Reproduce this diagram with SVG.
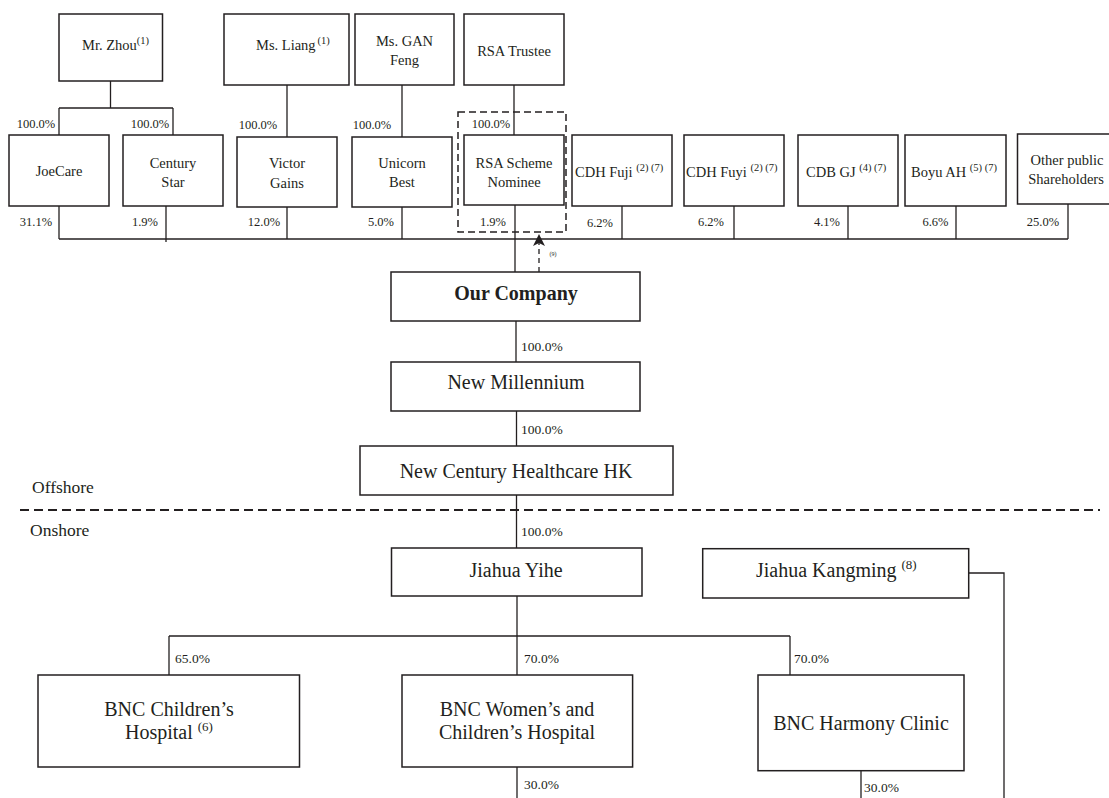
<svg xmlns="http://www.w3.org/2000/svg" width="1109" height="798" viewBox="0 0 1109 798">
<style>
rect.b{fill:#fff;stroke:#231f20;stroke-width:1.5}
.c line,.c path{stroke:#231f20;stroke-width:1.3;fill:none}
text{font-family:"Liberation Serif","Times New Roman",serif;fill:#231f20}
.t{font-size:14.5px;text-anchor:middle}
.ts{font-size:14.5px}
.p{font-size:12.5px;text-anchor:middle}
.L{font-size:20px;text-anchor:middle}
.Ls{font-size:20px}
.q{font-size:13.5px}
.sup{font-size:10.5px}
.sup2{font-size:13px}
.side{font-size:17.5px}
</style>
<rect width="1109" height="798" fill="#fff"/>

<g id="connectors" class="c">
<line x1="110.5" y1="81" x2="110.5" y2="108"/>
<line x1="59" y1="108" x2="173" y2="108"/>
<line x1="59" y1="108" x2="59" y2="135"/>
<line x1="173" y1="108" x2="173" y2="135"/>
<line x1="287" y1="85" x2="287" y2="137"/>
<line x1="402" y1="85" x2="402" y2="137"/>
<line x1="514" y1="85" x2="514" y2="135"/>
<line x1="59" y1="206" x2="59" y2="239"/>
<line x1="166" y1="206" x2="166" y2="242"/>
<line x1="287" y1="207" x2="287" y2="239"/>
<line x1="402" y1="207" x2="402" y2="239"/>
<line x1="515" y1="205" x2="515" y2="272"/>
<line x1="622" y1="206" x2="622" y2="239"/>
<line x1="734" y1="206" x2="734" y2="239"/>
<line x1="848" y1="206" x2="848" y2="239"/>
<line x1="956" y1="206" x2="956" y2="239"/>
<line x1="1068" y1="204" x2="1068" y2="239"/>
<line x1="59" y1="239" x2="1068" y2="239"/>
<line x1="539" y1="272" x2="539" y2="243" stroke-dasharray="5,4"/>
<path d="M539,234 L545,246 L539,243 L533,246 Z" style="fill:#231f20;stroke:none"/>
<line x1="516" y1="321" x2="516" y2="362"/>
<line x1="516.5" y1="411" x2="516.5" y2="446"/>
<line x1="516.5" y1="495" x2="516.5" y2="548"/>
<line x1="517" y1="596" x2="517" y2="636"/>
<line x1="169" y1="636" x2="790" y2="636"/>
<line x1="169" y1="636" x2="169" y2="675"/>
<line x1="517" y1="636" x2="517" y2="675"/>
<line x1="790" y1="636" x2="790" y2="675"/>
<line x1="517" y1="767" x2="517" y2="798"/>
<line x1="861" y1="771" x2="861" y2="798"/>
<path d="M969,573 H1004 V798"/>
<line x1="20" y1="510" x2="1100" y2="510" style="stroke-width:2" stroke-dasharray="9,5"/>
<rect x="458" y="112" width="108" height="120" style="fill:none;stroke:#231f20;stroke-width:1.5" stroke-dasharray="7,4"/>
</g>

<g id="labels">
<text class="p" x="36" y="128">100.0%</text>
<text class="p" x="150" y="128">100.0%</text>
<text class="p" x="258" y="129">100.0%</text>
<text class="p" x="372" y="129">100.0%</text>
<text class="p" x="491" y="128">100.0%</text>
<text class="p" x="36" y="226">31.1%</text>
<text class="p" x="145" y="226">1.9%</text>
<text class="p" x="264" y="226">12.0%</text>
<text class="p" x="381" y="226">5.0%</text>
<text class="p" x="493" y="226">1.9%</text>
<text class="p" x="600" y="227">6.2%</text>
<text class="p" x="711" y="226">6.2%</text>
<text class="p" x="827" y="226">4.1%</text>
<text class="p" x="935.5" y="226">6.6%</text>
<text class="p" x="1043" y="226">25.0%</text>
<text x="553" y="256" style="font-size:6px;text-anchor:middle">(9)</text>
<text class="q" x="521" y="350.5">100.0%</text>
<text class="q" x="521" y="433.5">100.0%</text>
<text class="q" x="521" y="535.5">100.0%</text>
<text class="q" x="175" y="662.5">65.0%</text>
<text class="q" x="524" y="662.5">70.0%</text>
<text class="q" x="794" y="663">70.0%</text>
<text class="q" x="524" y="788.5">30.0%</text>
<text class="q" x="864" y="792">30.0%</text>
<text class="side" x="32" y="493">Offshore</text>
<text class="side" x="30" y="536">Onshore</text>
</g>

<g id="mr-zhou"><rect class="b" x="59" y="14" width="103.5" height="67"/><text class="ts" x="82" y="50">Mr. Zhou<tspan class="sup" dy="-6">(1)</tspan></text></g>
<g id="ms-liang"><rect class="b" x="224" y="14" width="125" height="71"/><text class="ts" x="256" y="50">Ms. Liang<tspan class="sup" dy="-6" dx="2">(1)</tspan></text></g>
<g id="ms-gan-feng"><rect class="b" x="355" y="14" width="99" height="71"/><text class="t" x="404.5" y="45.5">Ms. GAN</text><text class="t" x="404.5" y="65">Feng</text></g>
<g id="rsa-trustee"><rect class="b" x="464" y="14" width="100" height="71"/><text class="t" x="514" y="56">RSA Trustee</text></g>

<g id="joecare"><rect class="b" x="9" y="135" width="100" height="71"/><text class="t" x="59" y="176">JoeCare</text></g>
<g id="century-star"><rect class="b" x="123" y="135" width="100" height="71"/><text class="t" x="173" y="168">Century</text><text class="t" x="173" y="187">Star</text></g>
<g id="victor-gains"><rect class="b" x="237" y="137" width="100" height="70"/><text class="t" x="287" y="168">Victor</text><text class="t" x="287" y="188">Gains</text></g>
<g id="unicorn-best"><rect class="b" x="352" y="137" width="100" height="70"/><text class="t" x="402" y="168">Unicorn</text><text class="t" x="402" y="187">Best</text></g>
<g id="rsa-scheme-nominee"><rect class="b" x="464" y="135" width="100" height="70"/><text class="t" x="514" y="168">RSA Scheme</text><text class="t" x="514" y="187">Nominee</text></g>
<g id="cdh-fuji"><rect class="b" x="572" y="135" width="100" height="71"/><text class="ts" x="575" y="177">CDH Fuji <tspan class="sup" dy="-6">(2) (7)</tspan></text></g>
<g id="cdh-fuyi"><rect class="b" x="684" y="135" width="100" height="71"/><text class="ts" x="686" y="177">CDH Fuyi <tspan class="sup" dy="-6">(2) (7)</tspan></text></g>
<g id="cdb-gj"><rect class="b" x="798" y="135" width="100" height="71"/><text class="ts" x="806" y="177">CDB GJ <tspan class="sup" dy="-6">(4) (7)</tspan></text></g>
<g id="boyu-ah"><rect class="b" x="905" y="135" width="101" height="71"/><text class="ts" x="911" y="177">Boyu AH <tspan class="sup" dy="-6">(5) (7)</tspan></text></g>
<g id="other-public"><rect class="b" x="1017.5" y="134" width="100" height="70"/><text class="t" x="1067" y="165">Other public</text><text class="t" x="1066" y="184">Shareholders</text></g>

<g id="our-company"><rect class="b" x="391" y="272" width="249" height="49"/><text class="L" x="516" y="300" font-weight="bold">Our Company</text></g>
<g id="new-millennium"><rect class="b" x="391" y="362" width="249" height="49"/><text class="L" x="516" y="389">New Millennium</text></g>
<g id="new-century-healthcare-hk"><rect class="b" x="360" y="446" width="313" height="49"/><text class="L" x="516" y="478">New Century Healthcare HK</text></g>
<g id="jiahua-yihe"><rect class="b" x="391.5" y="548" width="250.5" height="48"/><text class="L" x="516" y="577">Jiahua Yihe</text></g>
<g id="jiahua-kangming"><rect class="b" x="702.7" y="548.7" width="266" height="49.3"/><text class="Ls" x="756" y="577">Jiahua Kangming <tspan class="sup2" dy="-8">(8)</tspan></text></g>
<g id="bnc-childrens-hospital"><rect class="b" x="38" y="675" width="261.5" height="92"/><text class="L" x="169" y="716">BNC Children’s</text><text class="Ls" x="125" y="739">Hospital <tspan class="sup2" dy="-8">(6)</tspan></text></g>
<g id="bnc-womens-childrens-hospital"><rect class="b" x="402" y="675" width="230.6" height="92"/><text class="L" x="517" y="716">BNC Women’s and</text><text class="L" x="517" y="739">Children’s Hospital</text></g>
<g id="bnc-harmony-clinic"><rect class="b" x="758" y="675" width="206" height="95.7"/><text class="L" x="861" y="730">BNC Harmony Clinic</text></g>
</svg>
